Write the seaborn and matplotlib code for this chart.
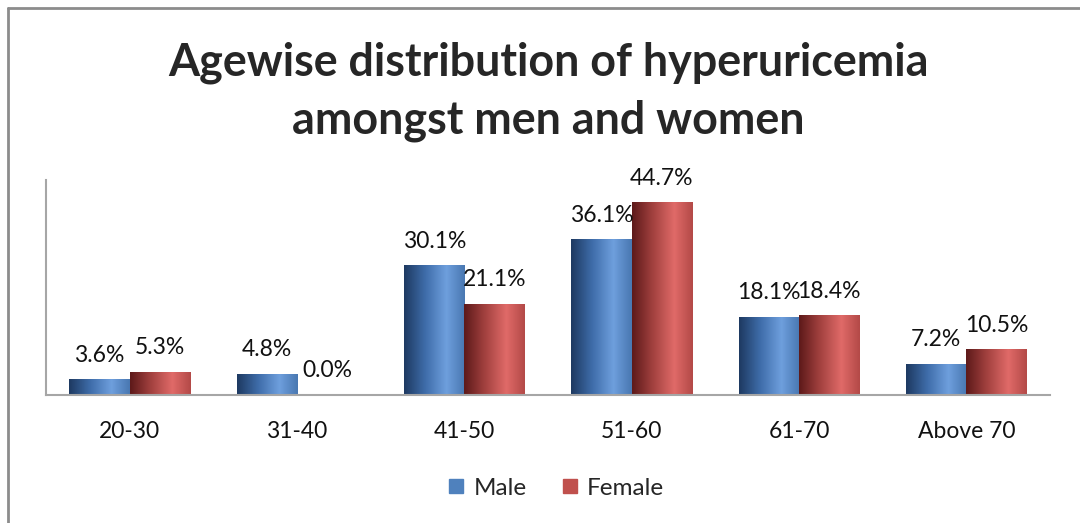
import numpy as np
import pandas as pd
import seaborn as sns
import matplotlib.pyplot as plt
from matplotlib.colors import LinearSegmentedColormap
from matplotlib.lines import Line2D

age_groups = ["20-30", "31-40", "41-50", "51-60", "61-70", "Above 70"]
male = [3.6, 4.8, 30.1, 36.1, 18.1, 7.2]
female = [5.3, 0.0, 21.1, 44.7, 18.4, 10.5]
sexes = ["Male", "Female"]

df = pd.DataFrame({
    "age": age_groups * 2,
    "pct": male + female,
    "sex": ["Male"] * len(male) + ["Female"] * len(female),
})

sns.set_style("white")
plt.rcParams["font.family"] = ["Lato", "DejaVu Sans"]

fig = plt.figure(figsize=(10.8, 5.23), dpi=100)
ax = fig.add_axes([46 / 1080, 1 - 395 / 523, (1050 - 46) / 1080, (395 - 180) / 523])

palette = {"Male": "#4F81BD", "Female": "#C0504D"}
sns.barplot(data=df, x="age", y="pct", hue="sex", hue_order=sexes,
            palette=palette, width=0.72, gap=0, saturation=1,
            ax=ax, legend=False)

# shaded bars (dark left edge, highlight right of centre)
grads = {
    "Male": LinearSegmentedColormap.from_list(
        "m", [(0, "#1E3A62"), (0.35, "#3F6DAA"), (0.7, "#6E9FDD"), (1, "#4A78B2")]),
    "Female": LinearSegmentedColormap.from_list(
        "f", [(0, "#5E1A1A"), (0.35, "#A44240"), (0.7, "#E06A68"), (1, "#B44A48")]),
}
ramp = np.linspace(0, 1, 64).reshape(1, -1)
for sex, cont in zip(sexes, ax.containers):
    for bar in cont:
        x0, y0 = bar.get_x(), bar.get_y()
        w, h = bar.get_width(), bar.get_height()
        if h <= 0:
            continue
        ax.imshow(ramp, cmap=grads[sex], aspect="auto",
                  extent=(x0, x0 + w, y0, y0 + h), zorder=bar.get_zorder() + 0.1)
    ax.bar_label(cont, fmt="{:.1f}%", padding=10, fontsize=16.5, color="#111111")
ax.set_xlim(-0.5, len(age_groups) - 0.5)
ax.set_ylim(0, 50)

ax.set_xlabel("")
ax.set_ylabel("")
ax.set_yticks([])
ax.tick_params(axis="x", labelsize=16.5, colors="#111111", length=0, pad=19)
for s in ["top", "right"]:
    ax.spines[s].set_visible(False)
for s in ["left", "bottom"]:
    ax.spines[s].set_color("#A6A6A6")
    ax.spines[s].set_linewidth(1.5)

fig.text(548 / 1080, 1 - 63 / 523, "Agewise distribution of hyperuricemia",
         ha="center", va="center", fontsize=32.3, fontweight="bold")
fig.text(548 / 1080, 1 - 121 / 523, "amongst men and women",
         ha="center", va="center", fontsize=32.3, fontweight="bold")

handles = [Line2D([], [], marker="s", linestyle="", markersize=10.5,
                  markerfacecolor=palette[s], markeredgecolor=palette[s]) for s in sexes]
fig.legend(handles, sexes, loc="center", bbox_to_anchor=(553 / 1080, 1 - 488 / 523),
           ncol=2, frameon=False, fontsize=17.5, handletextpad=0.1,
           handlelength=1.2, columnspacing=1.2)

# chart frame (top and left edges)
fig.add_artist(Line2D([8 / 1080, 1], [1 - 8 / 523] * 2, color="#8C8C8C", lw=2))
fig.add_artist(Line2D([8 / 1080] * 2, [0, 1 - 8 / 523], color="#8C8C8C", lw=2))

fig.savefig("out.png", dpi=100, facecolor="white")
